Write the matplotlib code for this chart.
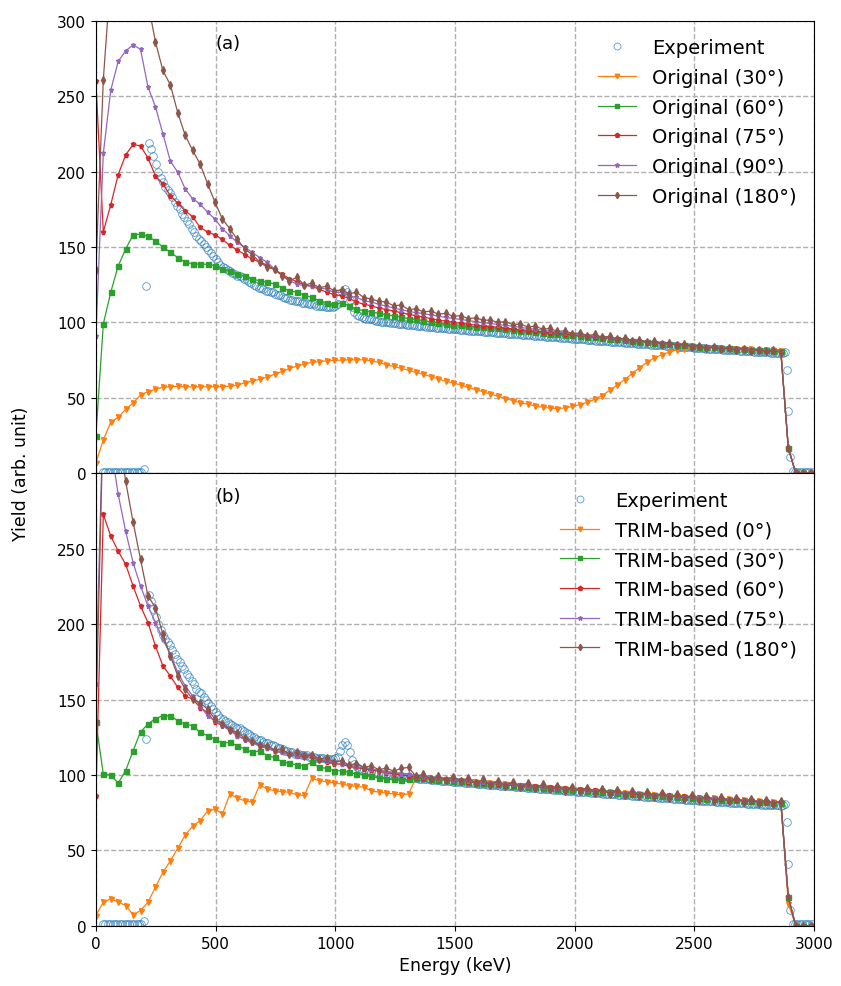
import numpy as np
import matplotlib
matplotlib.use('Agg')
import matplotlib.pyplot as plt

# ---- data ----
# experiment: energy grid (keV) and yield
exp_energy = list(range(30, 2880, 10)) + [2880, 2887, 2893, 2900, 2910, 2920, 2930, 2940,
                                            2950, 2960, 2970, 2980, 2990]
exp_yield = [
    1, 1, 1, 1, 1, 1, 1, 1, 1, 1,
    1, 1, 1, 1, 1, 1, 1, 3, 124, 219,
    215, 210, 205, 200, 196, 193, 190, 188, 186, 183,
    180, 177, 175, 172, 170, 167, 165, 162, 160, 157,
    155, 154, 152, 150, 148, 146, 144, 142, 140, 138,
    137, 136, 135, 134, 133, 132, 131, 131, 130, 129,
    128, 127, 126, 125, 124, 123, 123, 122, 121, 121,
    120, 120, 119, 118, 118, 117, 116, 116, 115, 115,
    114, 114, 114, 113, 113, 113, 112, 112, 112, 111,
    111, 111, 111, 110.5, 110.5, 110.5, 110.5, 111, 112, 116,
    120, 122, 120, 115, 110, 107, 105, 104, 103.5, 103,
    102.5, 102, 102, 101.5, 101, 101, 100.5, 100.5, 100, 100,
    99.8, 99.5, 99.5, 99.2, 99, 99, 98.7, 98.5, 98.3, 98,
    98, 97.8, 97.6, 97.5, 97.3, 97.1, 97, 96.8, 96.7, 96.5,
    96.4, 96.2, 96.1, 96, 95.8, 95.7, 95.5, 95.4, 95.3, 95.1,
    95, 94.9, 94.8, 94.6, 94.5, 94.4, 94.3, 94.1, 94, 93.9,
    93.8, 93.6, 93.5, 93.4, 93.3, 93.1, 93, 92.9, 92.7, 92.6,
    92.5, 92.4, 92.2, 92.1, 92, 91.9, 91.7, 91.6, 91.5, 91.4,
    91.2, 91.1, 91, 90.9, 90.7, 90.6, 90.5, 90.4, 90.2, 90.1,
    90, 89.9, 89.8, 89.6, 89.5, 89.4, 89.3, 89.1, 89, 88.9,
    88.8, 88.7, 88.5, 88.4, 88.3, 88.2, 88, 87.9, 87.8, 87.7,
    87.6, 87.4, 87.3, 87.2, 87.1, 87, 86.8, 86.7, 86.6, 86.5,
    86.4, 86.2, 86.1, 86, 85.9, 85.8, 85.7, 85.5, 85.4, 85.3,
    85.2, 85.1, 85, 84.8, 84.7, 84.6, 84.5, 84.4, 84.3, 84.2,
    84, 83.9, 83.8, 83.7, 83.6, 83.5, 83.4, 83.3, 83.2, 83,
    82.9, 82.8, 82.7, 82.6, 82.5, 82.4, 82.3, 82.2, 82.1, 82,
    81.9, 81.8, 81.7, 81.6, 81.5, 81.4, 81.3, 81.2, 81.1, 81,
    80.9, 80.8, 80.7, 80.6, 80.5, 80.4, 80.3, 80.2, 80.1, 80,
    79.9, 79.8, 79.8, 79.7, 79.9,
    80.5, 68.5, 41, 10.6, 1.5, 1, 1, 1, 1, 1, 1, 1, 1,
]

# simulation energy grid (keV), one bin every ~31 keV
sim_energy = np.arange(97) * 31.1

# (a) original model
orig_labels = ['Original (30°)', 'Original (60°)', 'Original (75°)',
               'Original (90°)', 'Original (180°)']
orig_30 = [
    7, 22, 34, 37, 42.5, 46.5, 52, 54, 55.7, 57,
    57.3, 57.7, 57.3, 57.3, 57.3, 57.3, 57.3, 57.5, 57.7, 58.4,
    60, 61, 62.4, 63.7, 65.7, 67.5, 69.5, 71, 72.3, 73.5,
    74, 74.5, 74.8, 75, 75.2, 75.2, 75.2, 74.5, 73.5, 72,
    70.8, 69.5, 68.3, 66.8, 65.6, 64, 62.5, 61, 60, 58.5,
    57, 55.5, 54, 52.5, 51, 49.5, 48.2, 46.8, 45.8, 44.6,
    43.8, 43.2, 42.9, 43.3, 44.3, 45.5, 47, 49, 51.5, 55,
    58.5, 62, 66, 70, 73.5, 76.5, 78.5, 80.3, 81.8, 82.5,
    83, 83.2, 83.2, 83, 82.8, 82.6, 82.5, 82.3, 82.2, 82,
    81.8, 81.5, 81.3, 16, 0, 0, 0,
]
orig_60 = [
    25, 99, 120, 137.5, 148.6, 158, 158.6, 157, 154, 150,
    146.4, 143, 140, 138.7, 138.7, 138.5, 137.6, 135.4, 134, 132,
    130.9, 128.7, 127.6, 126.5, 125.5, 123, 121, 120, 118, 116.6,
    114.4, 113, 112, 113, 111, 108.8, 107.7, 107, 106, 105,
    104.4, 103.5, 102.5, 102, 101, 100.5, 99.8, 99, 98.5, 98,
    97.5, 97, 96.8, 96.3, 96, 95.5, 95, 94.6, 94, 93.5,
    93, 92.6, 92.2, 91.8, 91.4, 91, 90.5, 90, 89.6, 89.2,
    88.7, 88.2, 87.8, 87.3, 86.8, 86.4, 86, 85.6, 85.2, 84.8,
    84.4, 84, 83.7, 83.4, 83.1, 82.8, 82.6, 82.3, 82, 81.8,
    81.5, 81.2, 80.8, 17, 0, 0, 0,
]
orig_75 = [
    260, 160, 178, 198, 211, 218, 217, 209, 197, 192,
    184, 179, 174, 170, 163, 160, 158, 155, 151, 148,
    145, 142, 140, 138, 135, 132, 129, 127, 125, 124,
    122, 120, 118.5, 117.5, 116, 113.5, 112, 111, 109.5, 108.5,
    107.5, 106.5, 105.3, 104.5, 103.5, 102.5, 101.5, 100.8, 100, 99.4,
    98.8, 98.2, 97.8, 97.2, 96.7, 96.2, 95.7, 95.2, 94.6, 94.1,
    93.7, 93.2, 92.8, 92.4, 92, 91.5, 91, 90.5, 90, 89.5,
    89, 88.5, 88, 87.6, 87.1, 86.6, 86.2, 85.8, 85.4, 85,
    84.6, 84.2, 83.8, 83.5, 83.1, 82.8, 82.5, 82.2, 81.9, 81.6,
    81.3, 81, 80.5, 17, 0, 0, 0,
]
orig_90 = [
    91, 212, 254, 273, 280, 284, 281, 256, 243, 225,
    207, 199.5, 188.5, 182, 178.5, 173, 168.5, 162, 157.5, 153,
    149.8, 146.4, 143, 139.8, 135.4, 131, 127.6, 125.4, 124.3, 124,
    123, 122, 120, 120, 117.7, 116.6, 114.4, 113.5, 112, 110.8,
    109.5, 108.5, 107.3, 106.5, 105.8, 105, 104.2, 103.3, 102.6, 102,
    101.2, 100.5, 99.8, 99.3, 98.6, 98, 97.5, 96.7, 96, 95.5,
    94.8, 94.2, 93.6, 93, 92.5, 91.9, 91.3, 90.8, 90.2, 89.7,
    89.1, 88.6, 88.1, 87.6, 87.1, 86.7, 86.2, 85.8, 85.4, 85,
    84.6, 84.2, 83.9, 83.5, 83.2, 82.9, 82.6, 82.3, 82, 81.7,
    81.4, 81.1, 80.7, 17, 0, 0, 0,
]
orig_180 = [
    135, 261, 330, 360, 372, 365, 345, 312, 286, 267,
    257.5, 239, 224, 214, 205, 192, 179.6, 168.5, 162, 155,
    148.6, 145, 140, 136.5, 135.4, 131, 127.6, 129.8, 124.7, 126,
    123, 124, 121, 121.5, 119, 120, 116.5, 115.5, 114, 113.5,
    111, 111.5, 108.5, 109, 107, 107.5, 105.5, 106, 104, 104.5,
    102.5, 103, 101.5, 101.5, 100, 100.5, 98.5, 99, 97, 97.5,
    95.5, 96, 94, 94.5, 92.5, 93, 91.3, 92, 90, 90.8,
    89, 89.5, 88, 88.5, 86.8, 87.5, 85.8, 86.5, 84.8, 85.5,
    84, 84.5, 83, 83.8, 82.3, 83, 81.8, 82.5, 81.2, 82,
    80.8, 81.5, 80, 17, 0, 0, 0,
]

# (b) TRIM-based model
trim_labels = ['TRIM-based (0°)', 'TRIM-based (30°)', 'TRIM-based (60°)',
               'TRIM-based (75°)', 'TRIM-based (180°)']
trim_0 = [
    6.8, 15.7, 17.9, 15.7, 13.4, 7.3, 10.1, 15.7, 25.6, 35.5,
    43, 51.4, 60.2, 66, 69.7, 76, 77.4, 74.1, 87.4, 84.5,
    82.9, 81.9, 93.3, 90.7, 89.5, 88.9, 88.5, 86.7, 86.5, 97.7,
    96.2, 95.5, 94.8, 94, 93, 92.5, 91.8, 89.5, 88.6, 88,
    87.4, 86.9, 87.4, 98, 98.3, 97.6, 97.2, 96.8, 96.5, 96.1,
    95.7, 95.3, 94.9, 94.5, 94.1, 93.7, 93.4, 93, 92.6, 92.2,
    91.9, 91.6, 91.3, 91, 90.6, 90.2, 89.9, 89.5, 89.2, 88.8,
    88.5, 88.1, 87.8, 87.5, 87.1, 86.8, 86.5, 86.2, 85.9, 85.6,
    85.3, 85, 84.7, 84.4, 84.1, 83.8, 83.5, 83.2, 82.9, 82.6,
    82.3, 82, 81.7, 14.6, 0, 0, 0,
]
trim_30 = [
    135, 100.6, 99.9, 94.6, 102.8, 116, 128.6, 133.7, 137.4, 139.2,
    139.2, 135.9, 133.7, 132.6, 128.2, 126, 123.8, 121.1, 121.6, 119.3,
    117.1, 115, 116, 112.7, 111.6, 108.7, 107.7, 106.6, 106.1, 108.3,
    105, 104.4, 102.8, 102.8, 101.7, 100.6, 99.9, 99, 97.9, 97.3,
    97, 96.8, 97, 97.8, 97.7, 97.2, 96.9, 96.4, 96.1, 95.7,
    95.3, 94.9, 94.6, 94.1, 93.8, 93.3, 93, 92.5, 92.2, 91.8,
    91.5, 91.1, 90.8, 90.5, 90.2, 89.8, 89.5, 89.1, 88.8, 88.4,
    88.1, 87.7, 87.4, 87.1, 86.8, 86.5, 86.2, 85.9, 85.6, 85.2,
    84.9, 84.6, 84.3, 84, 83.7, 83.4, 83.1, 82.8, 82.5, 82.2,
    81.9, 81.6, 81.3, 19, 0, 0, 0,
]
trim_60 = [
    86, 272.7, 258.3, 248.4, 239.6, 225.2, 212, 201, 185.5, 172.3,
    165.6, 158, 152.4, 150.2, 144.7, 141.4, 134.8, 133, 130.4, 126,
    123.8, 121.6, 119.3, 117.6, 116, 115, 113.8, 112.7, 112.3, 111.6,
    110, 108.7, 107.5, 107, 105.7, 105, 104, 103.3, 102.5, 101.5,
    100.8, 100, 99.3, 98.8, 98.1, 97.9, 97.2, 97.1, 96.4, 96.4,
    95.6, 95.5, 94.8, 94.7, 94, 93.9, 93.2, 93.1, 92.4, 92.4,
    91.8, 91.7, 91.1, 91.1, 90.5, 90.4, 89.8, 89.7, 89.1, 89,
    88.4, 88.3, 87.7, 87.6, 87.1, 87, 86.4, 86.4, 85.8, 85.8,
    85.2, 85.1, 84.6, 84.5, 84, 83.9, 83.4, 83.3, 82.8, 82.7,
    82.2, 82.1, 81.8, 19, 0, 0, 0,
]
trim_75 = [
    160, 345, 318, 286, 261.6, 240.7, 225.2, 212, 201, 190,
    180, 168, 159, 152.4, 145.8, 139.2, 135.9, 132.6, 129.3, 126,
    123.3, 121.1, 119.3, 117.6, 116, 115, 113.8, 112.7, 113.8, 112.5,
    110.5, 109.5, 108, 107.5, 106.5, 105.5, 104.8, 104, 103, 102.2,
    101.5, 100.8, 100.5, 99, 98.6, 97.8, 97.6, 96.9, 96.8, 96,
    96.1, 95.5, 95.2, 94.6, 94.4, 93.9, 93.7, 93.1, 92.9, 92.3,
    92.2, 91.6, 91.5, 90.9, 90.9, 90.2, 90.2, 89.5, 89.5, 88.8,
    88.8, 88.1, 88.1, 87.5, 87.5, 86.9, 86.9, 86.3, 86.3, 85.7,
    85.6, 85.1, 85, 84.4, 84.4, 83.8, 83.8, 83.2, 83.2, 82.6,
    82.6, 82, 81.9, 19, 0, 0, 0,
]
trim_180 = [
    135, 340, 360, 330, 294.7, 267.6, 242.9, 218.6, 211, 193.2,
    178.9, 165.6, 156.8, 150.2, 148, 143.6, 137, 134, 130, 128,
    124.5, 122.5, 120, 119.5, 116.5, 117, 114, 115, 112.5, 113.5,
    110.5, 111.5, 108.5, 109.5, 106.5, 107.5, 105, 106, 103.5, 104.5,
    102.5, 104.4, 105, 99, 100.5, 97, 99.3, 96.5, 98.8, 95.8,
    98, 94.6, 97, 93.6, 96.3, 92.8, 95.5, 92.2, 94.5, 91.2,
    93.8, 90.6, 93, 89.6, 92, 89.4, 91.5, 88.2, 90.6, 87.6,
    90, 86.8, 89.3, 86.3, 88.5, 85.6, 88, 84.7, 87.3, 84.3,
    86.6, 83.6, 86, 83, 85.3, 82.4, 84.8, 81.9, 84.2, 81.4,
    83.6, 81, 82.6, 19, 0, 0, 0,
]

markers = ['v', 's', 'p', '*', 'd']
colors = ['C1', 'C2', 'C3', 'C4', 'C5']


def draw_panel(ax, series, labels, tag):
    ax.plot(exp_energy, exp_yield, 'o', mfc='none', mec='C0', mew=0.6,
            ms=5.5, alpha=0.75, label='Experiment')
    for y, lab, mk, c in zip(series, labels, markers, colors):
        ax.plot(sim_energy, y, marker=mk, color=c, lw=0.9, ms=3.6, label=lab)
    ax.set_xlim(0, 3000)
    ax.set_ylim(0, 300)
    ax.grid(True, ls='--', color='#b0b0b0', lw=1)
    ax.text(500, 285, tag, ha='left', va='center', fontsize=13)
    ax.legend(loc='upper right', frameon=False, fontsize=14, labelspacing=0.55,
              markerscale=0.9)


fig, (ax1, ax2) = plt.subplots(2, 1, sharex=True, figsize=(8.41, 9.87), dpi=100)
plt.subplots_adjust(left=0.114, right=0.968, top=0.978, bottom=0.061, hspace=0)

draw_panel(ax1, [orig_30, orig_60, orig_75, orig_90, orig_180], orig_labels, '(a)')
draw_panel(ax2, [trim_0, trim_30, trim_60, trim_75, trim_180], trim_labels, '(b)')

ax1.set_yticks(np.arange(0, 301, 50))
ax2.set_yticks(np.arange(0, 251, 50))
ax2.set_xticks(np.arange(0, 3001, 500))
for ax in (ax1, ax2):
    ax.tick_params(labelsize=11)
ax2.set_xlabel('Energy (keV)', fontsize=12.5)
fig.text(0.025, 0.52, 'Yield (arb. unit)', rotation=90, ha='center', va='center',
         fontsize=12.5)

plt.savefig('out.png', dpi=100)
